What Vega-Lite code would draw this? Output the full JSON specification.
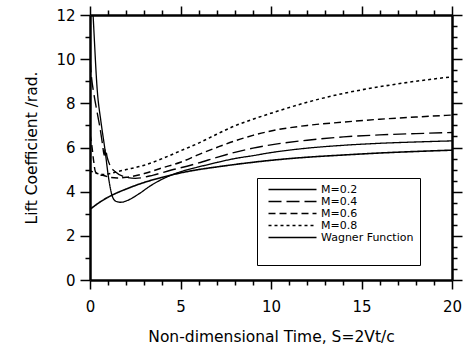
{
  "$schema": "https://vega.github.io/schema/vega-lite/v6.json",
  "width": 362,
  "height": 265,
  "autosize": "none",
  "padding": {"left": 90, "top": 15, "right": 14, "bottom": 68},
  "background": "white",
  "config": {
    "view": {"stroke": null},
    "axis": {
      "domainColor": "black",
      "domainWidth": 2.5,
      "tickColor": "black",
      "tickWidth": 1.5,
      "grid": false,
      "labelFont": "DejaVu Sans",
      "labelFontSize": 15,
      "labelColor": "black",
      "titleFont": "DejaVu Sans",
      "titleFontSize": 15.5,
      "titleFontWeight": "normal",
      "titleColor": "black",
      "labelFlush": false,
      "labelOverlap": false
    }
  },
  "data": {
    "values": [
      {"series": "M=0.2", "s": 0.07, "cl": 13.5},
      {"series": "M=0.2", "s": 0.17, "cl": 12.0},
      {"series": "M=0.2", "s": 0.4, "cl": 8.6},
      {"series": "M=0.2", "s": 0.6, "cl": 7.2},
      {"series": "M=0.2", "s": 0.81, "cl": 6.0},
      {"series": "M=0.2", "s": 1.05, "cl": 4.5},
      {"series": "M=0.2", "s": 1.23, "cl": 3.8},
      {"series": "M=0.2", "s": 1.42, "cl": 3.57},
      {"series": "M=0.2", "s": 1.7, "cl": 3.52},
      {"series": "M=0.2", "s": 2.06, "cl": 3.6},
      {"series": "M=0.2", "s": 2.7, "cl": 3.9},
      {"series": "M=0.2", "s": 3.35, "cl": 4.27},
      {"series": "M=0.2", "s": 4, "cl": 4.57},
      {"series": "M=0.2", "s": 5, "cl": 4.9},
      {"series": "M=0.2", "s": 6, "cl": 5.12},
      {"series": "M=0.2", "s": 7, "cl": 5.32},
      {"series": "M=0.2", "s": 8, "cl": 5.5},
      {"series": "M=0.2", "s": 9, "cl": 5.63},
      {"series": "M=0.2", "s": 10, "cl": 5.77},
      {"series": "M=0.2", "s": 12, "cl": 5.97},
      {"series": "M=0.2", "s": 14, "cl": 6.1},
      {"series": "M=0.2", "s": 16, "cl": 6.19},
      {"series": "M=0.2", "s": 18, "cl": 6.25},
      {"series": "M=0.2", "s": 20, "cl": 6.3},

      {"series": "M=0.4", "s": 0, "cl": 10.0},
      {"series": "M=0.4", "s": 0.08, "cl": 9.2},
      {"series": "M=0.4", "s": 0.2, "cl": 8.5},
      {"series": "M=0.4", "s": 0.37, "cl": 7.7},
      {"series": "M=0.4", "s": 0.55, "cl": 6.9},
      {"series": "M=0.4", "s": 0.7, "cl": 6.1},
      {"series": "M=0.4", "s": 0.78, "cl": 5.65},
      {"series": "M=0.4", "s": 0.85, "cl": 5.95},
      {"series": "M=0.4", "s": 0.95, "cl": 5.55},
      {"series": "M=0.4", "s": 1.1, "cl": 5.2},
      {"series": "M=0.4", "s": 1.4, "cl": 4.9},
      {"series": "M=0.4", "s": 1.8, "cl": 4.7},
      {"series": "M=0.4", "s": 2.5, "cl": 4.6},
      {"series": "M=0.4", "s": 3.5, "cl": 4.75},
      {"series": "M=0.4", "s": 4.5, "cl": 4.98},
      {"series": "M=0.4", "s": 5, "cl": 5.08},
      {"series": "M=0.4", "s": 6, "cl": 5.3},
      {"series": "M=0.4", "s": 7, "cl": 5.55},
      {"series": "M=0.4", "s": 8, "cl": 5.78},
      {"series": "M=0.4", "s": 9, "cl": 5.97},
      {"series": "M=0.4", "s": 10, "cl": 6.12},
      {"series": "M=0.4", "s": 12, "cl": 6.33},
      {"series": "M=0.4", "s": 14, "cl": 6.48},
      {"series": "M=0.4", "s": 16, "cl": 6.57},
      {"series": "M=0.4", "s": 18, "cl": 6.63},
      {"series": "M=0.4", "s": 20, "cl": 6.68},

      {"series": "M=0.6", "s": 0, "cl": 6.6},
      {"series": "M=0.6", "s": 0.1, "cl": 6.1},
      {"series": "M=0.6", "s": 0.2, "cl": 5.4},
      {"series": "M=0.6", "s": 0.3, "cl": 4.9},
      {"series": "M=0.6", "s": 0.5, "cl": 4.78},
      {"series": "M=0.6", "s": 0.8, "cl": 4.72},
      {"series": "M=0.6", "s": 1.1, "cl": 4.65},
      {"series": "M=0.6", "s": 1.5, "cl": 4.62},
      {"series": "M=0.6", "s": 2, "cl": 4.65},
      {"series": "M=0.6", "s": 2.5, "cl": 4.72},
      {"series": "M=0.6", "s": 3, "cl": 4.82},
      {"series": "M=0.6", "s": 4, "cl": 5.08},
      {"series": "M=0.6", "s": 5, "cl": 5.33},
      {"series": "M=0.6", "s": 6, "cl": 5.68},
      {"series": "M=0.6", "s": 7, "cl": 6.0},
      {"series": "M=0.6", "s": 8, "cl": 6.3},
      {"series": "M=0.6", "s": 9, "cl": 6.55},
      {"series": "M=0.6", "s": 10, "cl": 6.75},
      {"series": "M=0.6", "s": 12, "cl": 7.0},
      {"series": "M=0.6", "s": 14, "cl": 7.15},
      {"series": "M=0.6", "s": 16, "cl": 7.28},
      {"series": "M=0.6", "s": 18, "cl": 7.38},
      {"series": "M=0.6", "s": 20, "cl": 7.47},

      {"series": "M=0.8", "s": 0, "cl": 4.95},
      {"series": "M=0.8", "s": 0.3, "cl": 4.85},
      {"series": "M=0.8", "s": 0.7, "cl": 4.78},
      {"series": "M=0.8", "s": 1.0, "cl": 4.8},
      {"series": "M=0.8", "s": 1.47, "cl": 4.9},
      {"series": "M=0.8", "s": 2, "cl": 5.0},
      {"series": "M=0.8", "s": 3, "cl": 5.2},
      {"series": "M=0.8", "s": 4, "cl": 5.5},
      {"series": "M=0.8", "s": 5, "cl": 5.85},
      {"series": "M=0.8", "s": 6, "cl": 6.2},
      {"series": "M=0.8", "s": 7, "cl": 6.6},
      {"series": "M=0.8", "s": 8, "cl": 6.98},
      {"series": "M=0.8", "s": 9, "cl": 7.28},
      {"series": "M=0.8", "s": 10, "cl": 7.55},
      {"series": "M=0.8", "s": 12, "cl": 8.05},
      {"series": "M=0.8", "s": 14, "cl": 8.45},
      {"series": "M=0.8", "s": 16, "cl": 8.75},
      {"series": "M=0.8", "s": 18, "cl": 9.0},
      {"series": "M=0.8", "s": 20, "cl": 9.2},

      {"series": "Wagner Function", "s": 0, "cl": 3.2},
      {"series": "Wagner Function", "s": 0.5, "cl": 3.5},
      {"series": "Wagner Function", "s": 1, "cl": 3.75},
      {"series": "Wagner Function", "s": 1.5, "cl": 3.95},
      {"series": "Wagner Function", "s": 2, "cl": 4.12},
      {"series": "Wagner Function", "s": 3, "cl": 4.42},
      {"series": "Wagner Function", "s": 4, "cl": 4.65},
      {"series": "Wagner Function", "s": 5, "cl": 4.85},
      {"series": "Wagner Function", "s": 6, "cl": 5.0},
      {"series": "Wagner Function", "s": 7, "cl": 5.12},
      {"series": "Wagner Function", "s": 8, "cl": 5.23},
      {"series": "Wagner Function", "s": 10, "cl": 5.42},
      {"series": "Wagner Function", "s": 12, "cl": 5.56},
      {"series": "Wagner Function", "s": 14, "cl": 5.66},
      {"series": "Wagner Function", "s": 16, "cl": 5.75},
      {"series": "Wagner Function", "s": 18, "cl": 5.82},
      {"series": "Wagner Function", "s": 20, "cl": 5.88}
    ]
  },
  "layer": [
    {
      "mark": {"type": "line", "clip": true, "color": "black", "interpolate": "monotone"},
      "encoding": {
        "x": {
          "field": "s", "type": "quantitative",
          "scale": {"domain": [0, 20], "nice": false, "zero": false},
          "axis": {
            "orient": "bottom",
            "title": "Non-dimensional Time, S=2Vt/c",
            "values": [0,1,2,3,4,5,6,7,8,9,10,11,12,13,14,15,16,17,18,19,20],
            "format": "d",
            "tickSize": {"condition": {"test": "datum.value % 5 === 0", "value": 9}, "value": 5},
            "labelExpr": "datum.value % 5 === 0 ? datum.label : ''",
            "labelPadding": 10,
            "titlePadding": 15
          }
        },
        "y": {
          "field": "cl", "type": "quantitative",
          "scale": {"domain": [0, 12], "nice": false, "zero": false},
          "axis": {
            "orient": "left",
            "title": "Lift Coefficient /rad.",
            "values": [0,0.5,1,1.5,2,2.5,3,3.5,4,4.5,5,5.5,6,6.5,7,7.5,8,8.5,9,9.5,10,10.5,11,11.5,12],
            "format": "d",
            "tickSize": {"condition": {"test": "datum.value % 2 === 0", "value": 10}, "value": 5},
            "labelExpr": "datum.value % 2 === 0 ? format(datum.value, 'd') : ''",
            "labelPadding": 5,
            "titlePadding": 16
          }
        },
        "strokeDash": {
          "field": "series", "type": "nominal",
          "scale": {
            "domain": ["M=0.2", "M=0.4", "M=0.6", "M=0.8", "Wagner Function"],
            "range": [[1, 0], [13, 5], [7, 4], [3, 3], [1, 0]]
          },
          "legend": {
            "title": "\u00a0",
            "titleOrient": "bottom", "titleFontSize": 14, "titlePadding": 2,
            "orient": "none", "legendX": 167, "legendY": 163,
            "strokeColor": "black", "fillColor": "white", "padding": 6,
            "symbolType": "M0,0H48", "symbolSize": 4,
            "symbolStrokeColor": "black", "symbolFillColor": "transparent",
            "labelOffset": 47, "labelFont": "DejaVu Sans", "labelFontSize": 11,
            "labelColor": "black", "rowPadding": 0,
            "encode": {
              "symbols": {"update": {"strokeWidth": {"signal": "datum.value === 'Wagner Function' ? 2.8 : datum.value === 'M=0.8' ? 1.8 : 1.4"}}}
            }
          }
        },
        "strokeWidth": {
          "field": "series", "type": "nominal",
          "scale": {
            "domain": ["M=0.2", "M=0.4", "M=0.6", "M=0.8", "Wagner Function"],
            "range": [1.3, 1.6, 1.6, 1.8, 2.7]
          },
          "legend": null
        }
      }
    },
    {
      "mark": {"type": "line", "strokeOpacity": 0, "clip": true},
      "encoding": {
        "x": {
          "field": "s", "type": "quantitative",
          "axis": {
            "orient": "top", "title": null, "labels": false,
            "values": [0,1,2,3,4,5,6,7,8,9,10,11,12,13,14,15,16,17,18,19,20],
            "tickSize": {"condition": {"test": "datum.value % 5 === 0", "value": 9}, "value": 5}
          }
        },
        "y": {
          "field": "cl", "type": "quantitative",
          "axis": {
            "orient": "right", "title": null, "labels": false,
            "values": [0,0.5,1,1.5,2,2.5,3,3.5,4,4.5,5,5.5,6,6.5,7,7.5,8,8.5,9,9.5,10,10.5,11,11.5,12],
            "tickSize": {"condition": {"test": "datum.value % 2 === 0", "value": 10}, "value": 5}
          }
        },
        "detail": {"field": "series"}
      }
    }
  ],
  "resolve": {"axis": {"x": "independent", "y": "independent"}}
}
